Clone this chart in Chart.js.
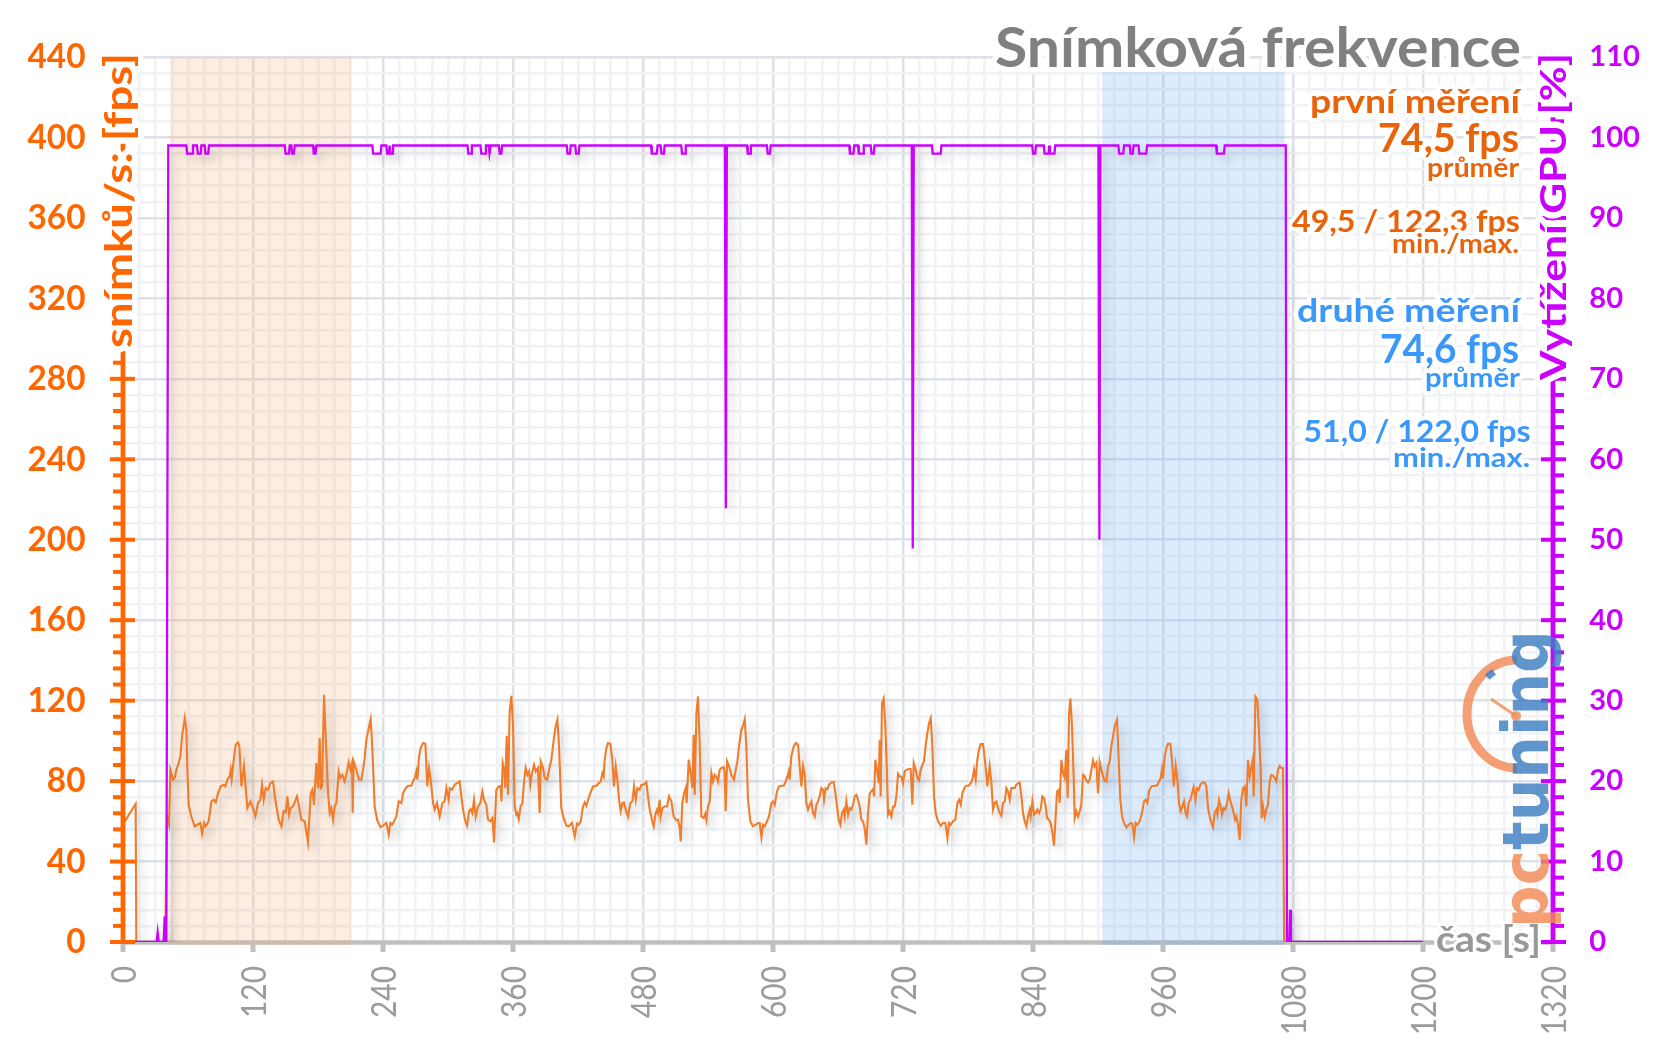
<!DOCTYPE html>
<html>
<head>
<meta charset="utf-8">
<script src="https://cdn.jsdelivr.net/npm/chart.js@4.4.1/dist/chart.umd.min.js"></script>
<style>
  html, body { margin: 0; padding: 0; background: #fff; }
  #wrap { width: 1656px; height: 1044px; }
</style>
</head>
<body>
<div id="wrap"><canvas id="c" width="1656" height="1044"></canvas></div>
<script>
'use strict';

// ─── DATA ────────────────────────────────────────────────────────────────────
// [time s, fps]
const fpsPoints = [
  [0,58.5],[11.7,68.7],[12.3,0],[39,0],[40.6,62.4],[42.5,58.3],[43.7,85.6],[46.2,80.7],[47.7,81.5],[49.3,85.6],
  [51.4,89],[53,92.3],[54.5,102.2],[57,111.3],[58.5,105.5],[59.4,85.6],[60.6,68.2],[63.1,62.4],[66.2,57.5],[68.6,58.3],
  [71.4,59.2],[73,53.8],[74.8,59.2],[76.3,57.5],[79.1,60],[81.6,69.9],[83.7,70.7],[85.6,69.4],[87.7,74],[90.2,77.4],
  [93,78.2],[94.5,77.4],[96.3,80.7],[98.5,82.3],[99.4,85.6],[100.3,81],[102.2,90.6],[104,98.1],[106.2,99.2],[107.4,97.2],
  [109.3,77.4],[111.7,87.3],[113.3,76.5],[114.8,66.6],[117.6,69.9],[119.4,67.4],[122.2,62.4],[124.6,69.1],[126.8,70.7],[128.3,78.2],
  [129.9,70.7],[131.7,76.5],[133.9,75.7],[136,79],[138.5,79.8],[140.6,70.7],[143.7,60.8],[146.2,57.5],[148.3,65],[150.2,64.4],
  [151.7,72.4],[153.3,63.3],[154.8,66.6],[157,67.4],[160.6,72.4],[162.5,67.4],[164.6,60.8],[167.7,60],[170.8,49.5],[173.3,74],
  [174.8,75.7],[176.3,68.2],[178.5,89],[180,76.5],[181.6,101.4],[182.5,76.5],[183.7,77.4],[185.6,122.9],[187.1,102.2],[189.3,74],
  [190.8,64.1],[192.3,66.6],[193.9,60.8],[195.4,67.4],[197,69.1],[199.1,84.8],[200.6,81.5],[202.5,83.1],[204.6,79.8],[206.2,83.1],
  [208.3,89.3],[209.9,85.6],[211.4,89],[212,64.1],[212.9,89.8],[215.4,85.6],[217.9,80.7],[220,80.7],[221.6,85.6],[223.1,91.4],
  [224.6,100.5],[226.8,106.3],[228.6,110.8],[230.2,95.6],[232.3,67.4],[234.5,60.8],[237.6,57.1],[240,57.8],[243.1,59.2],[245.3,53.3],
  [246.8,59.2],[248.3,58.3],[250.2,60],[252.3,62.4],[254.5,69.9],[257,69.1],[258.5,74],[261,76.5],[263.1,77.7],[266.2,77.7],
  [267.7,79.8],[269.3,81.5],[270.8,84.8],[271.7,80.7],[273.3,92.3],[274.8,96.4],[276.9,98.9],[279.1,98.5],[280.9,77.4],[282.5,86.5],
  [284,80.7],[286.2,69.1],[287.7,65.8],[289.9,69.1],[292.3,62.4],[294.8,69.1],[296.9,69.9],[298.5,76.5],[300.6,70.7],[301.6,76.5],
  [303.7,75.7],[306.2,78.2],[308.3,79],[310.8,79.8],[312.3,72.4],[313.9,65.8],[316,60],[317.6,57.8],[319.4,65],[321,66.1],
  [322.5,64.1],[324,70.7],[325.6,62.4],[327.7,67.4],[329.9,69.1],[331.7,74.9],[333.2,70.7],[335.4,68.2],[336.9,60.8],[339.1,60],
  [341,61.6],[342.5,49.5],[344.6,75.7],[347.1,77.4],[348.6,77.4],[349.3,69.9],[350.5,89],[352,85.6],[352.9,76.5],[354.2,102.5],
  [355.4,73.2],[356.9,114.6],[358.5,122.4],[360,107.2],[361.6,67.4],[363.1,63.3],[364,64.1],[365.3,61.1],[367.1,67.7],[368.6,68.7],
  [370.2,79.8],[371.7,86.5],[373.3,83.1],[374.8,84.8],[376,78.2],[377.6,84],[379.4,88.1],[381,84.8],[383.1,86.5],[384.6,64.1],
  [385.6,89.8],[387.7,86.5],[389.3,81.5],[391.4,80.7],[393.3,85.6],[395.4,90.6],[397.6,100.5],[399.4,107.2],[401,110.5],[402.5,97.2],
  [404.6,66.6],[406.8,61.6],[409.3,57.8],[411.4,57.5],[414.5,59.2],[417,52.5],[419.1,58.8],[420.6,58.3],[422.5,60],[424.6,67.4],
  [426.2,69.4],[427.7,67.7],[429.3,70.7],[431.4,74],[433.9,77.4],[437,77.7],[439.1,79],[441,79.8],[442.5,84],[443.7,82.3],
  [444.6,90.6],[446.2,96.4],[447.7,98.9],[449.9,98.5],[451.7,90.6],[453.2,77.4],[454.8,87.3],[456.3,80.7],[457.9,70.7],[459.4,65],
  [461,69.1],[462.5,69.4],[464,65.8],[466.2,62.4],[468.3,69.1],[470.2,69.9],[471.7,77.4],[473.3,70.7],[474.8,76.5],[476.9,75.7],
  [478.5,78.2],[480.6,78.2],[483.1,79.5],[484.6,72.4],[486.2,65.8],[488.3,60.8],[489.9,57.5],[491.7,64.1],[493,65.8],[493.9,64.1],
  [495.4,70.7],[496.3,62.4],[497.9,66.6],[500,67.4],[502.2,67.4],[504,72.4],[506.2,69.9],[508.3,62.4],[510.8,60.5],[512.3,60.8],
  [513.9,56.6],[514.8,50],[516.3,69.1],[517.9,74],[519.4,76.5],[520.3,69.1],[522.2,90.6],[524,84],[525.6,76.5],[526.8,103],
  [527.7,73.2],[529.3,113.8],[530.8,122.1],[532.3,98.9],[533.9,62.4],[536,61.6],[537.6,63.8],[538.5,60.8],[540,67.4],[541.6,69.9],
  [543.1,84],[544.6,79.8],[546.2,83.1],[547.7,82.3],[549.3,79.8],[550.8,85.6],[552.3,86.5],[554.5,87],[555.4,84],[556.3,65],
  [557.6,89.8],[559.4,87.3],[561.6,83.1],[564,80.7],[565.6,85.6],[567.1,89.8],[568.6,97.2],[570.8,105.5],[572.3,107.5],[573.9,110.8],
  [575.4,97.2],[576.9,70.7],[579.1,60],[581.6,57.5],[584,58.3],[586.2,59.2],[587.7,59.2],[589.3,52],[590.8,58.3],[592.3,57.5],
  [594.5,60],[596.3,62.4],[598.5,69.1],[600,69.9],[601.6,68.2],[603.7,74.9],[605.6,77.4],[607.7,77.7],[609.9,77.7],[611.7,79.8],
  [613.3,82.3],[614.5,84.8],[615.4,80.7],[616.9,92.3],[619.1,97.2],[621,98.9],[623.1,98.1],[624.6,87.3],[626.2,77.4],[627.7,87.6],
  [629.3,83.1],[630.8,69.1],[632.3,65.8],[633.9,68.2],[635.4,69.9],[637,64.1],[638.5,62.4],[640,68.2],[641.6,69.9],[643.1,72.4],
  [644.6,76.5],[646.2,75.7],[647.1,70.7],[648.6,76.5],[650.2,76],[651.7,78.2],[653.9,79.3],[656,79.5],[657.6,74],[659.1,67.4],
  [660.6,60.8],[662.2,58.3],[663.7,64.1],[665.3,65.8],[666.2,62.4],[667.7,69.9],[669.3,63.3],[670.8,66.6],[672.3,65.8],[673.9,68.2],
  [675.4,72.4],[677,73.2],[678.5,70.7],[680,67.4],[681.6,60.8],[683.1,60],[684.6,56.6],[686.2,48.4],[687.7,64.1],[689.3,74],
  [690.8,74.9],[692.3,76],[693.3,72.4],[694.5,90.6],[696,85.6],[697.6,79],[698.5,100.5],[699.4,72.4],[700.6,118.7],[702.2,121],
  [703.7,107.2],[705.2,84],[706.2,63.3],[707.7,65],[709.3,62.4],[710.8,67.4],[712.3,67.4],[713.9,72.4],[715.4,83.6],[716.9,82.3],
  [718.5,82.3],[720,79],[721.6,84.8],[723.1,85.6],[725.3,86],[727.1,86],[728.6,68.2],[729.9,89],[731.7,85.6],[733.3,81.5],
  [734.8,80.3],[736.3,85.6],[737.9,88.1],[739.4,89.8],[741,98.1],[742.5,103.8],[744,108.8],[745.6,111.3],[747.1,97.2],[748.6,72.4],
  [750.2,64.1],[752.3,60],[754.8,57.8],[756.9,59.2],[759.1,59.2],[761,51.7],[762.5,59.2],[764,58.3],[766.2,60],[768.3,60.8],
  [770.2,69.1],[771.7,70.7],[773.3,68.2],[774.8,74],[777,77],[778.5,77.7],[780.6,77.7],[782.5,79],[784,80.7],[785.6,85.6],
  [787.1,80.7],[788.6,90.6],[790.2,95.9],[791.7,98.4],[793.9,98.4],[795.4,91.4],[797,83.1],[797.9,77.4],[800,87.3],[801.6,79],
  [803.1,65.8],[804.6,69.1],[806.2,69.9],[807.7,66.6],[809.3,64.1],[810.8,62.8],[812.3,69.1],[813.9,69.9],[815.4,76.5],[816.9,74.9],
  [818.5,70.7],[820,76.5],[821.6,76.5],[823.1,76.5],[824.6,78.2],[826.2,79],[827.7,79.3],[829.3,72.4],[830.8,64.1],[832.3,60],
  [833.9,57.5],[835.4,62.4],[837,65.8],[837.9,62.4],[839.4,69.9],[840.9,63.3],[842.5,64.1],[844,65.8],[845.6,64.1],[847.1,66.1],
  [848.6,72.4],[850.2,71.6],[851.7,67.4],[853,61.6],[854.8,60.8],[856.3,59.2],[857.9,54.2],[859.4,47.9],[860.6,59.2],[862.2,74.9],
  [863.7,75.7],[864.6,69.1],[866.2,90.6],[867.7,84],[869.3,81.5],[870.8,95.6],[872,71.6],[873.3,113.8],[874.5,121.2],[876,107.2],
  [877.6,80.7],[878.5,61.6],[880,65],[881.6,62.4],[883.1,65],[884.6,68.2],[886.2,83.1],[887.7,82.3],[889.3,80.3],[890.8,79.3],
  [892.3,80.7],[893.9,85.6],[895.4,90.3],[896.9,87.3],[898.5,89],[900,74],[901.6,89.3],[903.1,85.6],[904.6,82.3],[906.2,80.3],
  [907.7,79.8],[909.3,87.3],[910.8,89.8],[912.3,97.2],[913.9,102.2],[915.4,107.2],[917.6,110.5],[919.1,90.6],[920.6,70.7],[922.2,62.4],
  [924,59.2],[926.2,57],[928.3,58.3],[930.2,59.2],[931.7,58.8],[933.3,52],[934.8,59.2],[936.3,58.3],[938.5,60],[940.6,64.1],
  [942.5,69.9],[944,70.7],[945.6,69.1],[947.1,74.9],[949.3,77.4],[951.7,77.7],[954.5,77.7],[956.3,79.8],[957.9,81.5],[959.1,86],
  [960,81.5],[961.6,92.3],[963.1,96.4],[964.6,98.5],[966.8,98.5],[968.3,90.6],[969.9,77.4],[971.7,87.6],[973.3,80.7],[974.8,69.1],
  [976.3,65],[977.9,67.4],[979.4,69.9],[980.9,64.1],[982.2,62.4],[983.7,69.1],[985.3,70.7],[986.8,74],[988.3,77],[989.9,70.7],
  [991.4,76.5],[993,75.7],[994.5,78.2],[996.3,79.3],[998.5,79.3],[1000,77.4],[1001.6,66.6],[1003.1,62.4],[1004.6,59.2],[1006.2,57],
  [1007.7,64.1],[1009.3,65.8],[1010.2,63.3],[1011.7,70.7],[1013.3,67.4],[1014.5,63.3],[1016,66.6],[1017.6,65.8],[1019.1,69.1],[1020.6,74],
  [1022.2,69.9],[1023.7,67.4],[1025.3,64.1],[1026.5,60.8],[1027.7,62.4],[1029.3,58.3],[1030.8,50.8],[1032.3,70.7],[1033.9,76.5],[1035.4,77.4],
  [1036.9,67.4],[1038.5,90.6],[1040,82.3],[1041.6,87.3],[1042.8,90.6],[1043.7,72.4],[1045.3,122.1],[1047.1,120.7],[1048.6,103.8],[1050.2,85.6],
  [1051.1,61.6],[1052.3,67.4],[1053.9,62.1],[1055.4,65.8],[1056.9,68.2],[1058.5,79.8],[1060,83.1],[1061.6,82.6],[1063.1,81.5],[1064.6,79.8],
  [1066.2,85.6],[1067.7,87.6],[1069.2,86.5],[1070.8,86.5],[1071.8,0],[1078,0]
];

// [time s, GPU load %]
const gpuPoints = [
  [0,0],[31,0],[32,1.2],[33,0],[37.5,0],[38.5,3.2],[39.5,0],[40,0],[41.8,99],
  [58.5,99],[59.2,98],[63.9,98],[64.6,99],[68.3,99],[69,98],[71.7,98],[72.4,99],[75.4,99],[76.1,98],[78.7,98],[79.4,99],
  [149.3,99],[150,98],[153.2,98],[153.9,99],[155.4,99],[156.1,98],[157.8,98],[158.5,99],[175.4,99],[176.1,98],[177.8,98],[178.5,99],
  [230.2,99],[230.9,98],[237.8,98],[238.5,99],[243.1,99],[243.8,98],[245.5,98],[246.1,99],[246.7,98],[248.5,98],[249.2,99],
  [318,99],[318.7,98],[321.3,98],[322,99],[330,99],[330.7,98],[334.3,98],[335,99],[337.6,99],[338.3,98],[339.5,99],
  [347,99],[347.7,98],[349.3,98],[350,99],[409.6,99],[410.3,98],[412.6,98],[413.3,99],[417.5,99],[418.2,98],[420.7,98],[421.4,99],
  [487.4,99],[488.1,98],[492.8,98],[493.5,99],[496.3,99],[497,98],[499.3,98],[500,99],[515.3,99],[516,98],[518.8,98],[519.5,99],
  [555.6,99],[556.5,53.9],[557.4,99],[576,99],[576.7,98],[578.9,98],[579.6,99],[594.4,99],[595.1,98],[597.2,98],[597.9,99],
  [670.3,99],[671,98],[674.3,98],[675,99],[678.5,99],[679.2,98],[683.1,98],[683.8,99],[690.2,99],[690.9,98],[693,98],[693.7,99],
  [728.1,99],[729,48.9],[729.9,99],[746.7,99],[747.4,98],[754.8,98],[755.5,99],
  [839.3,99],[840,98],[842.1,98],[842.8,99],[850,99],[850.7,98],[854.4,98],[855,99],[855.6,98],[859.8,98],[860.5,99],
  [900.4,99],[901.3,50],[902.2,99],[918.8,99],[919.5,98],[923.3,98],[924,99],[929.3,99],[930,98],[932.1,98],[932.8,99],
  [937.4,99],[938.1,98],[944.6,98],[945.3,99],[1009,99],[1009.7,98],[1016.3,98],[1017,99],
  [1073.3,99],[1074.4,0],[1076.5,0],[1077.3,4],[1078.1,0],[1200,0]
];

const timeTicks = [0, 120, 240, 360, 480, 600, 720, 840, 960, 1080, 1200, 1320];
const fpsTicks = [0, 40, 80, 120, 160, 200, 240, 280, 320, 360, 400, 440];
const gpuTicks = [0, 10, 20, 30, 40, 50, 60, 70, 80, 90, 100, 110];
const firstRun = [43.7, 210.8];     // shaded interval, s
const secondRun = [904, 1072.3];
const firstStats = ['první měření', '74,5 fps', 'průměr', '49,5 / 122,3 fps', 'min./max.'];
const secondStats = ['druhé měření', '74,6 fps', 'průměr', '51,0 / 122,0 fps', 'min./max.'];

// ─── STYLE ───────────────────────────────────────────────────────────────────
const FONT = 'Lato, "Open Sans", sans-serif';
const ORANGE_AXIS = '#ff6600';
const PURPLE = '#cc00ff';
const FPS_LINE = '#f07d2c';
const ORANGE_TXT = '#e8630a';
const BLUE_TXT = '#3a98fb';
const GRID_MAJOR = '#dde2e9';
const GRID_MINOR = '#f0f2f6';

function drawText(ctx, s, x, y, o) {
  ctx.save();
  ctx.font = o.font;
  ctx.translate(x, y);
  if (o.rot) ctx.rotate(o.rot);
  const w = ctx.measureText(s).width;
  const sx = o.sx || (o.width ? o.width / w : 1);
  ctx.scale(sx, 1);
  ctx.textAlign = o.align || 'left';
  ctx.textBaseline = o.base || 'alphabetic';
  if (o.halo) {
    ctx.lineJoin = 'round';
    ctx.strokeStyle = '#fff';
    ctx.lineWidth = o.halo;
    ctx.strokeText(s, 0, 0);
  }
  ctx.fillStyle = o.color;
  ctx.fillText(s, 0, 0);
  ctx.restore();
}

function line(ctx, x1, y1, x2, y2, color, w) {
  ctx.strokeStyle = color;
  ctx.lineWidth = w;
  ctx.beginPath();
  ctx.moveTo(x1, y1);
  ctx.lineTo(x2, y2);
  ctx.stroke();
}

const decor = {
  id: 'decor',
  beforeDatasetsDraw(chart) {
    const { ctx, chartArea: a, scales: { x, y } } = chart;
    ctx.save();
    const y0 = y.getPixelForValue(0);
    line(ctx, x.getPixelForValue(0), y0 + 0.5, x.getPixelForValue(1320), y0 + 0.5, '#bfbfbf', 4.5);
    ctx.fillStyle = 'rgba(245,175,115,0.22)';
    let l = x.getPixelForValue(firstRun[0]), r = x.getPixelForValue(firstRun[1]);
    ctx.fillRect(l, a.top, r - l, y0 + 3 - a.top);
    // the second band starts just under the title
    ctx.fillStyle = 'rgba(100,170,245,0.22)';
    l = x.getPixelForValue(secondRun[0]); r = x.getPixelForValue(secondRun[1]);
    ctx.fillRect(l, 72, r - l, y0 + 3 - 72);
    ctx.restore();
  },
  beforeDatasetDraw(chart) {
    const ctx = chart.ctx;
    ctx.save();
    ctx.shadowColor = 'rgba(0,0,0,0.2)';
    ctx.shadowBlur = 10;
    ctx.shadowOffsetX = 5;
    ctx.shadowOffsetY = 6;
  },
  afterDatasetDraw(chart) {
    chart.ctx.restore();
  },
  afterDraw(chart) {
    const { ctx, scales: { x, y, y1 } } = chart;
    const L = x.getPixelForValue(0), R = x.getPixelForValue(1320);
    const B = y.getPixelForValue(0), T = y.getPixelForValue(440);
    ctx.save();
    ctx.lineCap = 'butt';

    // x ticks
    timeTicks.forEach(v => {
      const px = x.getPixelForValue(v);
      line(ctx, px, B, px, B + 10, '#bfbfbf', 5);
    });

    // left axis
    line(ctx, L, B + 2, L, T - 2, ORANGE_AXIS, 4.8);
    for (let v = 0; v <= 440; v += 8) {
      const py = y.getPixelForValue(v);
      if (v % 40 === 0) line(ctx, L - 13, py, L + 12, py, ORANGE_AXIS, 4);
      else line(ctx, L - 10, py, L, py, ORANGE_AXIS, 4);
    }
    // right axis
    line(ctx, R, B + 2, R, T - 2, PURPLE, 4.8);
    for (let v = 0; v <= 110; v += 2) {
      const py = y1.getPixelForValue(v);
      if (v % 10 === 0) line(ctx, R - 12, py, R + 13, py, PURPLE, 4);
      else line(ctx, R, py, R + 11, py, PURPLE, 4);
    }

    // tick labels
    ctx.font = 'bold 35px ' + FONT;
    const sxL = 58 / ctx.measureText('440').width;
    fpsTicks.forEach(v => drawText(ctx, String(v), 85.5, y.getPixelForValue(v),
      { font: 'bold 35px ' + FONT, color: ORANGE_AXIS, align: 'right', base: 'middle', sx: sxL }));
    ctx.font = 'bold 29px ' + FONT;
    const sxR = 50.7 / ctx.measureText('100').width;
    gpuTicks.forEach(v => drawText(ctx, String(v), 1589.3, y1.getPixelForValue(v),
      { font: 'bold 29px ' + FONT, color: PURPLE, align: 'left', base: 'middle', sx: sxR }));
    ctx.font = '35px ' + FONT;
    const sxX = 52 / ctx.measureText('480').width;
    timeTicks.forEach(v => drawText(ctx, String(v), x.getPixelForValue(v) + 2, 966,
      { font: '35px ' + FONT, color: '#9c9c9c', align: 'right', base: 'middle', rot: -Math.PI / 2, sx: sxX }));

    // axis titles
    drawText(ctx, 'snímků/s: [fps]', 132, 200.5,
      { font: 'bold 38px ' + FONT, color: ORANGE_AXIS, align: 'center', rot: -Math.PI / 2, width: 295, halo: 11 });
    drawText(ctx, 'Vytížení GPU [%]', 1566, 216.5,
      { font: 'bold 37px ' + FONT, color: PURPLE, align: 'center', rot: -Math.PI / 2, width: 327, halo: 11 });
    drawText(ctx, 'čas [s]', 1541, 951.5,
      { font: 'bold 37px ' + FONT, color: '#999999', align: 'right', width: 105, halo: 6 });

    // title and stats
    drawText(ctx, 'Snímková frekvence', 1521, 66.5,
      { font: 'bold 56px ' + FONT, color: '#808080', align: 'right', width: 526, halo: 10 });
    const rows1 = [[1520, 113, 33, 210], [1519, 151.5, 40, 141], [1519, 177, 26, 92], [1520, 231.5, 30, 228], [1519, 253, 27, 127]];
    const rows2 = [[1520, 321.5, 33, 223], [1519, 363, 40, 139], [1520, 387, 26, 95], [1530.5, 441.5, 30, 227], [1530, 466.5, 27, 137]];
    rows1.forEach((r, i) => drawText(ctx, firstStats[i], r[0], r[1],
      { font: 'bold ' + r[2] + 'px ' + FONT, color: ORANGE_TXT, align: 'right', width: r[3], halo: 8 }));
    rows2.forEach((r, i) => drawText(ctx, secondStats[i], r[0], r[1],
      { font: 'bold ' + r[2] + 'px ' + FONT, color: BLUE_TXT, align: 'right', width: r[3], halo: 8 }));

    // logo
    ctx.globalAlpha = 0.82;
    ctx.strokeStyle = '#f28a55';
    ctx.lineWidth = 9;
    ctx.beginPath();
    ctx.ellipse(1517, 714, 50, 54, 0, Math.PI * 0.5, Math.PI * 1.5);
    ctx.stroke();
    line(ctx, 1516, 716, 1491, 699, '#f28a55', 3);
    ctx.fillStyle = '#f28a55';
    ctx.beginPath(); ctx.arc(1516, 716, 5, 0, Math.PI * 2); ctx.fill();
    ctx.strokeStyle = '#3d7fc2';
    ctx.lineWidth = 7;
    ctx.beginPath();
    ctx.ellipse(1517, 714, 45, 49, 0, Math.PI * 1.27, Math.PI * 1.33);
    ctx.stroke();
    drawText(ctx, 'tuning', 1548, 850,
      { font: 'bold 64px "DejaVu Sans", sans-serif', color: '#3d7fc2', align: 'left', rot: -Math.PI / 2, width: 220 });
    drawText(ctx, 'pc', 1548, 928,
      { font: 'bold 64px "DejaVu Sans", sans-serif', color: '#f28a55', align: 'left', rot: -Math.PI / 2, width: 78 });
    ctx.restore();
  }
};

const toXY = pts => pts.map(p => ({ x: p[0], y: p[1] }));

new Chart(document.getElementById('c'), {
  type: 'line',
  data: {
    datasets: [
      {
        label: 'Vytížení GPU [%]',
        data: toXY(gpuPoints),
        yAxisID: 'y1',
        borderColor: PURPLE,
        borderWidth: 2.3,
        pointRadius: 0,
        tension: 0
      },
      {
        label: 'snímků/s',
        data: toXY(fpsPoints),
        yAxisID: 'y',
        borderColor: FPS_LINE,
        borderWidth: 2.1,
        pointRadius: 0,
        tension: 0
      }
    ]
  },
  options: {
    responsive: false,
    animation: false,
    devicePixelRatio: 1,
    layout: { padding: { left: 123, right: 103, top: 57, bottom: 102 } },
    plugins: { legend: { display: false }, tooltip: { enabled: false } },
    scales: {
      x: {
        type: 'linear', min: 0, max: 1320,
        ticks: { display: false, stepSize: 15 },
        grid: { drawTicks: false, lineWidth: 2.5, color: c => (c.tick.value % 120 === 0 ? GRID_MAJOR : GRID_MINOR) },
        border: { display: false }
      },
      y: {
        min: 0, max: 440,
        ticks: { display: false, stepSize: 8 },
        grid: { drawTicks: false, lineWidth: 2.5, color: c => (c.tick.value % 40 === 0 ? GRID_MAJOR : GRID_MINOR) },
        border: { display: false }
      },
      y1: { position: 'right', min: 0, max: 110, display: false }
    }
  },
  plugins: [decor]
});
</script>
</body>
</html>
